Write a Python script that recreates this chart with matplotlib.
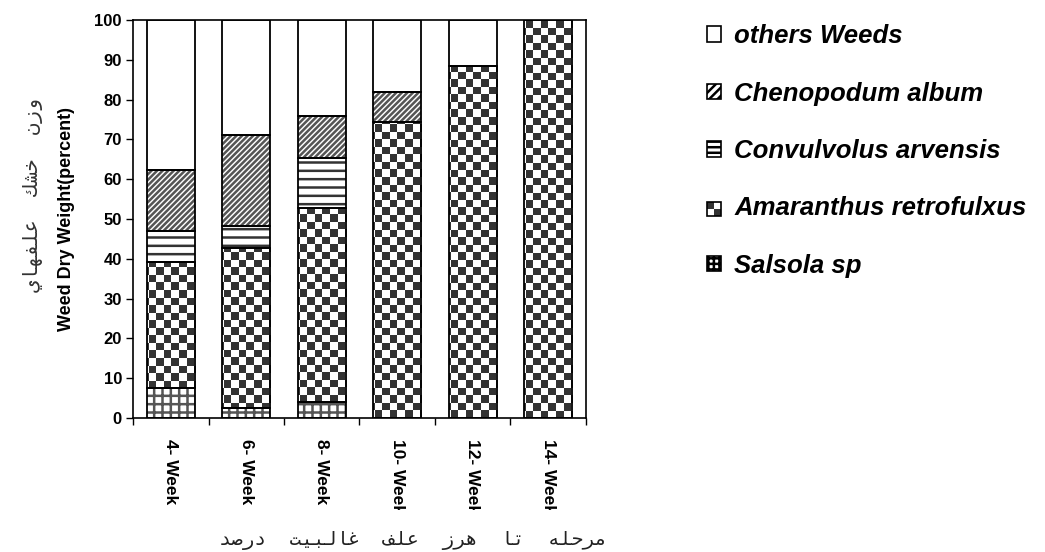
import numpy as np
import matplotlib
matplotlib.use("Agg")
import matplotlib.pyplot as plt
from matplotlib.patches import Rectangle
from matplotlib.colors import ListedColormap
from matplotlib.legend_handler import HandlerBase
from matplotlib.transforms import Bbox

plt.rcParams["font.family"] = ["Liberation Sans", "DejaVu Sans"]
plt.rcParams["hatch.linewidth"] = 1.8

# data
weeks = ["4- Week", "6- Week", "8- Week", "10- Week", "12- Week", "14- Week"]
salsola = [7.6, 2.4, 3.9, 0, 0, 0]
amaranthus = [31.7, 40.2, 48.8, 74.4, 88.5, 100]
convulvolus = [7.8, 5.7, 12.7, 0, 0, 0]
chenopodum = [15.2, 22.8, 10.5, 7.4, 0, 0]
others = [37.7, 28.9, 24.1, 18.2, 11.5, 0]

series_names = ["Salsola sp", "Amaranthus retrofulxus", "Convulvolus arvensis",
                "Chenopodum album", "others Weeds"]
series_vals = [salsola, amaranthus, convulvolus, chenopodum, others]
series_hatch = ["++", None, "--", "//////", None]
legend_hatch = ["+++", None, "---", "////", None]
hatch_colors = ["#555555", "black", "#333333", "#555555", "black"]

ylabel_fa = "وزن خشك علفهاي"
xlabel_fa = "درصد غالبیت علف هرز تا مرحله"


# very small arabic shaper (matplotlib does no shaping / bidi)
FORMS = {
    "ا": "\uFE8D\uFE8E", "د": "\uFEA9\uFEAA", "ر": "\uFEAD\uFEAE",
    "ز": "\uFEAF\uFEB0", "و": "\uFEED\uFEEE",
    "ب": "\uFE8F\uFE90\uFE91\uFE92", "ت": "\uFE95\uFE96\uFE97\uFE98",
    "ح": "\uFEA1\uFEA2\uFEA3\uFEA4", "خ": "\uFEA5\uFEA6\uFEA7\uFEA8",
    "ش": "\uFEB5\uFEB6\uFEB7\uFEB8", "ص": "\uFEB9\uFEBA\uFEBB\uFEBC",
    "ع": "\uFEC9\uFECA\uFECB\uFECC", "غ": "\uFECD\uFECE\uFECF\uFED0",
    "ف": "\uFED1\uFED2\uFED3\uFED4", "ك": "\uFED9\uFEDA\uFEDB\uFEDC",
    "ل": "\uFEDD\uFEDE\uFEDF\uFEE0", "م": "\uFEE1\uFEE2\uFEE3\uFEE4",
    "ن": "\uFEE5\uFEE6\uFEE7\uFEE8", "ه": "\uFEE9\uFEEA\uFEEB\uFEEC",
    "ي": "\uFEF1\uFEF2\uFEF3\uFEF4", "ی": "\uFEF1\uFEF2\uFEF3\uFEF4",
}


def shape_word(word):
    out = []
    for i, c in enumerate(word):
        f = FORMS[c]
        prev = word[i - 1] if i > 0 else None
        nxt = word[i + 1] if i < len(word) - 1 else None
        jp = prev is not None and len(FORMS[prev]) == 4
        jn = nxt is not None and len(f) == 4
        if jp and jn:
            out.append(f[3])
        elif jp:
            out.append(f[1])
        elif jn:
            out.append(f[2])
        else:
            out.append(f[0])
    return "".join(out[::-1])


def shape(text, rtl=True):
    words = [shape_word(w) for w in text.split()]
    if rtl:
        words = words[::-1]
    return "  ".join(words)


class CheckerHandler(HandlerBase):
    def create_artists(self, legend, orig, xd, yd, w, h, fs, trans):
        s = min(w, h)
        x0 = xd + (w - s) / 2
        y0 = yd + (h - s) / 2
        arts = [Rectangle((x0, y0), s, s, fc="white", lw=0, transform=trans)]
        arts.append(Rectangle((x0, y0 + s / 2), s / 2, s / 2, fc="#333333", lw=0, transform=trans))
        arts.append(Rectangle((x0 + s / 2, y0), s / 2, s / 2, fc="#333333", lw=0, transform=trans))
        arts.append(Rectangle((x0, y0), s, s, fc="none", ec="black", lw=1.2, transform=trans))
        return arts


fig = plt.figure(figsize=(10.45, 5.52), dpi=100)
ax = fig.add_axes([133 / 1045, 1 - 418 / 552, 453 / 1045, 398 / 552])

x = np.arange(len(weeks))
bottom = np.zeros(len(weeks))
proxies = []
checker_cmap = ListedColormap(["#333333", "white"])
nx, ny = 60, 53
checker = (np.add.outer(np.arange(ny), np.arange(nx)) % 2).astype(float)

for name, vals, h, lh, hc in zip(series_names, series_vals, series_hatch, legend_hatch, hatch_colors):
    vals = np.array(vals)
    # hatch drawn in its own grey, outline added on top in black
    bars = ax.bar(x, vals, width=0.64, bottom=bottom, color="white",
                  edgecolor=hc, linewidth=0, hatch=h, zorder=2)
    for rect in bars:
        if rect.get_height() <= 0:
            continue
        if name == "Amaranthus retrofulxus":
            im = ax.imshow(checker, extent=[-0.5, 5.5, 0, 100], cmap=checker_cmap,
                           vmin=0, vmax=1, interpolation="nearest", aspect="auto",
                           zorder=2.5, origin="lower")
            im.set_clip_path(rect)
        ax.add_patch(Rectangle(rect.get_xy(), rect.get_width(), rect.get_height(),
                               fc="none", ec="black", lw=1.3, zorder=3))
    proxies.append(Rectangle((0, 0), 1, 1, fc="white", ec="black", lw=1.2, hatch=lh))
    bottom = bottom + vals

ax.set_xlim(-0.5, 5.5)
ax.set_ylim(0, 100)
ax.set_yticks(np.arange(0, 101, 10))
ax.tick_params(axis="y", direction="out", length=5, width=1, labelsize=12, pad=3)
for lab in ax.get_yticklabels():
    lab.set_fontweight("bold")

ax.set_xticks(x)
ax.set_xticks(np.arange(-0.5, 6, 1), minor=True)
ax.set_xticklabels(weeks, rotation=-90, fontsize=12.5, fontweight="bold", va="top")
ax.tick_params(axis="x", which="major", length=0, pad=15)
ax.tick_params(axis="x", which="minor", direction="out", length=5, width=1)

# the long labels are cut off at the bottom in the original
clip = Bbox.from_extents(0, 42, 1045, 552)
for lab in ax.get_xticklabels():
    lab.set_clip_on(True)
    lab.set_clip_box(clip)

for sp in ax.spines.values():
    sp.set_linewidth(1.2)

ax.set_ylabel("Weed Dry Weight(percent)", fontsize=13, fontweight="bold", labelpad=14)

fig.text(33 / 1045, 1 - 195 / 552, shape(ylabel_fa), rotation=90, ha="center", va="center",
         fontsize=14.5, color="#333333", family=["DejaVu Sans Mono", "DejaVu Sans"])
fig.text(413 / 1045, 1 - 540 / 552, shape(xlabel_fa, rtl=False), ha="center", va="center",
         fontsize=14, color="#222222", family=["DejaVu Sans Mono", "DejaVu Sans"])

leg = fig.legend(proxies[::-1], series_names[::-1], loc="upper left",
                 bbox_to_anchor=(684 / 1045, 1 - 1 / 552),
                 frameon=False, handlelength=0.55, handleheight=0.55, handletextpad=0.5,
                 labelspacing=1.3, handler_map={proxies[1]: CheckerHandler()},
                 prop={"size": 18.5, "weight": "bold", "style": "italic"})

fig.savefig("out.png", dpi=100)
